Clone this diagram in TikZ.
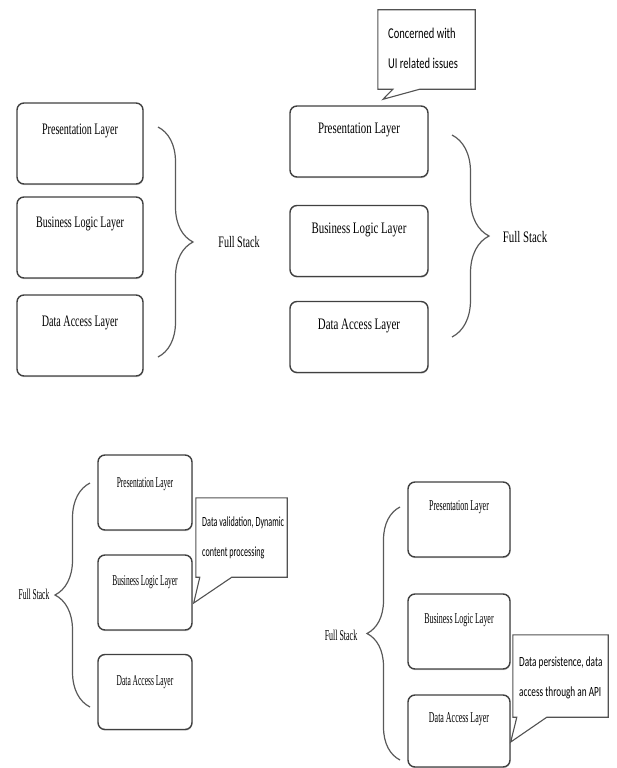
\documentclass[tikz,border=0pt]{standalone}
\usepackage{fontspec}
\setmainfont{Liberation Serif}
\newfontfamily\notefont{Carlito}
\usetikzlibrary{decorations.pathreplacing,shadows}
\newcommand{\sx}{0.65}
\newcommand{\sqz}[1]{\scalebox{\sx}[1]{#1}}
\tikzset{
  layer/.style={draw=black!75, fill=white, line width=1.4pt, rounded corners=7pt, inner sep=0pt,
    drop shadow={shadow xshift=0.5pt, shadow yshift=-1.2pt, fill=black!35}},
  layertext/.style={inner sep=0pt, text=black, font=\fontsize{16}{19}\selectfont},
  bracket/.style={draw=black!65, line width=1.2pt, decorate, decoration={brace, amplitude=#1}},
  bracket/.default=35pt,
  notebox/.style={inner sep=0pt},
  noteline/.style={draw=black!68, line width=1.1pt, fill=white, line join=miter},
  notetext/.style={inner sep=0pt, anchor=west, align=left, text=black, font=\notefont\fontsize{15}{30}\selectfont},
}
\begin{document}
\begin{tikzpicture}[x=1pt,y=-1pt]
\useasboundingbox (0,0) rectangle (616,768);

% top left
\begin{scope}[layer/.append style={minimum width=126pt, minimum height=81pt}]
\renewcommand{\sx}{0.63}
\node[layer] (a1) at (80,143.5) {};
\node[layer] (a2) at (80,237.5) {};
\node[layer] (a3) at (80,335.5) {};
\node[layertext] at ([yshift=-29pt]a1.north) {\sqz{Presentation Layer}};
\node[layertext] at ([yshift=-28pt]a2.north) {\sqz{Business Logic Layer}};
\node[layertext] at ([yshift=-29pt]a3.north) {\sqz{Data Access Layer}};
\draw[bracket] (158,127) -- (158,357);
\node[layertext] (fsa) at (239,242) {\sqz{Full Stack}};
\end{scope}

% top right
\begin{scope}[layer/.append style={minimum width=138pt, minimum height=71pt}]
\renewcommand{\sx}{0.68}
\node[layer] (b1) at (359,141.5) {};
\node[layer] (b2) at (359,241) {};
\node[layer] (b3) at (359,337) {};
\node[layertext] at ([yshift=-24.5pt]b1.north) {\sqz{Presentation Layer}};
\node[layertext] at ([yshift=-25pt]b2.north) {\sqz{Business Logic Layer}};
\node[layertext] at ([yshift=-25pt]b3.north) {\sqz{Data Access Layer}};
\draw[bracket=37pt] (452,135) -- (452,337);
\node[layertext] (fsb) at (525,237) {\sqz{Full Stack}};
\renewcommand{\sx}{0.70}
\node[notebox, minimum width=97pt, minimum height=79pt] (nb) at (426.5,49.5) {};
\coordinate (tb) at ([xshift=24pt,yshift=6pt]b1.north);
\draw[noteline] ([xshift=15pt]nb.south west) -- (nb.south west) -- (nb.north west) -- (nb.north east)
  -- (nb.south east) -- ([xshift=42pt]nb.south west) -- (tb) -- cycle;
\node[notetext] at (388,48) {\sqz{Concerned with}\\\sqz{UI related issues}};
\end{scope}

% bottom left
\begin{scope}[layer/.append style={minimum width=94pt, minimum height=75pt},
  layertext/.append style={font=\fontsize{15}{18}\selectfont}]
\renewcommand{\sx}{0.50}
\node[layer] (c1) at (145,492.5) {};
\node[layer] (c2) at (145,592.5) {};
\node[layer] (c3) at (145,692) {};
\node[layertext] at ([yshift=-30pt]c1.north) {\sqz{Presentation Layer}};
\node[layertext] at ([yshift=-28pt]c2.north) {\sqz{Business Logic Layer}};
\node[layertext] at ([yshift=-28pt]c3.north) {\sqz{Data Access Layer}};
\draw[bracket, decoration={mirror}] (90,483) -- (90,707);
\node[layertext] (fsc) at (34,594) {\sqz{Full Stack}};
\renewcommand{\sx}{0.58}
\node[notebox, minimum width=91pt, minimum height=79pt] (nc) at (241.5,537.5) {};
\coordinate (tc) at ([xshift=1pt,yshift=-10.5pt]c2.east);
\draw[noteline] ([xshift=4pt]nc.south west) -- (nc.south west) -- (nc.north west) -- (nc.north east)
  -- (nc.south east) -- ([xshift=36pt]nc.south west) -- (tc) -- cycle;
\node[notetext, font=\notefont\fontsize{14}{30}\selectfont] at (202,538) {\sqz{Data validation, Dynamic}\\\sqz{content processing}};
\end{scope}

% bottom right
\begin{scope}[layer/.append style={minimum width=102pt, minimum height=75pt},
  layertext/.append style={font=\fontsize{15}{18}\selectfont}]
\renewcommand{\sx}{0.53}
\node[layer] (d1) at (459,519.5) {};
\node[layer] (d2) at (459,631.5) {};
\node[layer, minimum height=72pt] (d3) at (459,731) {};
\node[layertext] at ([yshift=-26pt]d1.north) {\sqz{Presentation Layer}};
\node[layertext] at ([yshift=-27pt]d2.north) {\sqz{Business Logic Layer}};
\node[layertext] at ([yshift=-25pt]d3.north) {\sqz{Data Access Layer}};
\draw[bracket=33pt, decoration={mirror}] (400,507) -- (400,760);
\node[layertext] (fsd) at (341,635) {\sqz{Full Stack}};
\renewcommand{\sx}{0.66}
\node[notebox, minimum width=95pt, minimum height=82pt] (nd) at (560.5,676) {};
\coordinate (td) at ([yshift=-11pt]d3.east);
\draw[noteline] ([xshift=4pt]nd.south west) -- (nd.south west) -- (nd.north west) -- (nd.north east)
  -- (nd.south east) -- ([xshift=34pt]nd.south west) -- (td) -- cycle;
\node[notetext, font=\notefont\fontsize{14}{30}\selectfont] at (519,678) {\sqz{Data persistence, data}\\\sqz{access through an API}};
\end{scope}
\end{tikzpicture}
\end{document}
